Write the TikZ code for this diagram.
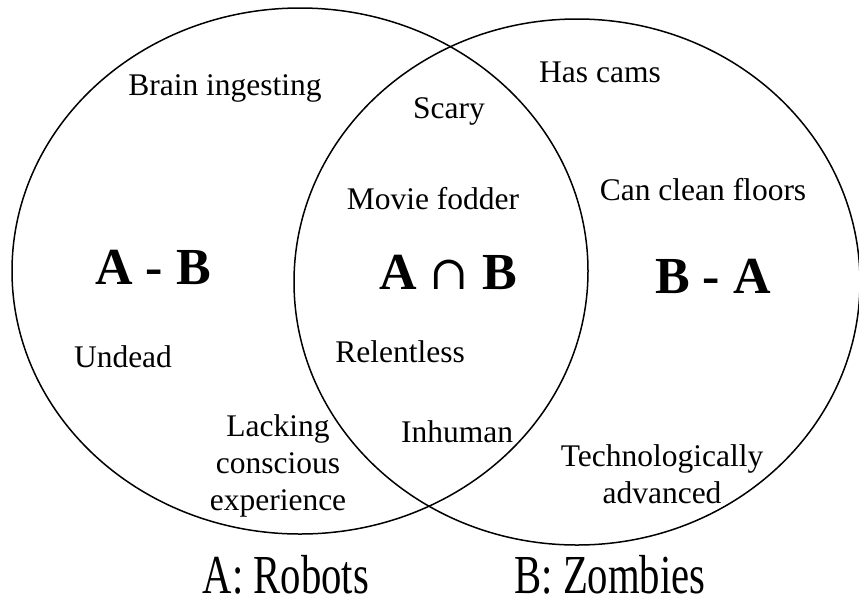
\documentclass[tikz,border=0pt]{standalone}
\usepackage{fontspec}
\setmainfont{Liberation Serif}
\newfontfamily\capsign{DejaVu Serif}
\newfontfamily\capfont[FakeStretch=0.74]{Liberation Serif}
\begin{document}
\begin{tikzpicture}[x=1pt,y=-1pt,line width=1.5pt,
  lbl/.style={font=\fontsize{31.5}{37}\selectfont,align=center,inner sep=0pt},
  setname/.style={font=\fontsize{52}{60}\selectfont\bfseries,inner sep=0pt},
  setcap/.style={font=\capfont\fontsize{55}{60}\selectfont,inner sep=0pt,anchor=base}]
\useasboundingbox (0,0) rectangle (859,595);
% the two sets
\coordinate (ca) at (300,271);
\coordinate (cb) at (577,282);
\draw (ca) ellipse [x radius=288,y radius=263];
\draw (cb) ellipse [x radius=283,y radius=263];
% region names
\node[setname] (amb) at (153,267) {A - B};
\node[setname] (anb) at (448,272) {A {\capsign\mdseries\fontsize{47}{50}\selectfont ∩} B};
\node[setname] (bma) at (713,276) {B - A};
% properties
\foreach \n/\x/\y/\t in {brain/225/88/{Brain ingesting}, cams/600/72/{Has cams}, scary/449/111/{Scary},
  fodder/433/199/{Movie fodder}, floors/703/190/{Can clean floors}, undead/123/357/{Undead},
  relent/400/352/{Relentless}, lack/278/466/{Lacking\\conscious\\experience}, inhum/457/432/{Inhuman},
  tech/662/474/{Technologically\\advanced}}
  {\node[lbl] (\n) at (\x,\y) {\t};}
% captions
\node[setcap] (capa) at (286,593) {A: Robots};
\node[setcap] (capb) at (610,593) {B: Zombies};
\end{tikzpicture}
\end{document}
